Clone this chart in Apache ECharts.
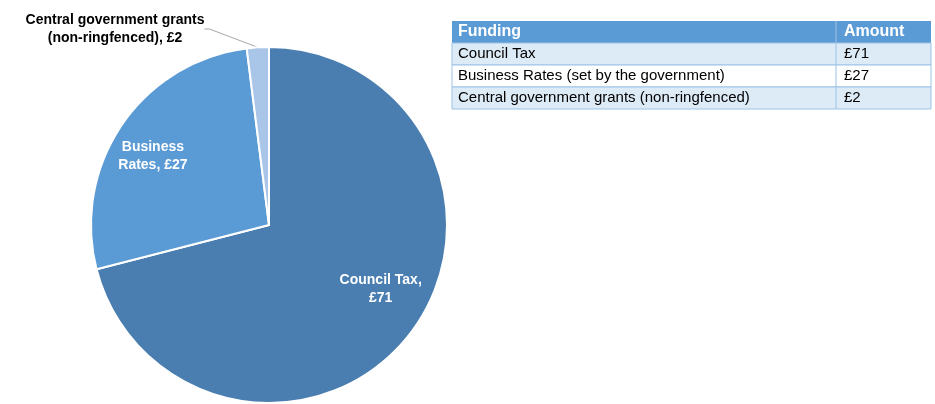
<!DOCTYPE html><html><head><meta charset="utf-8">
<script src="https://cdn.jsdelivr.net/npm/echarts@6/dist/echarts.min.js"></script>
<style>html,body{margin:0;background:#fff}#c{width:935px;height:404px}</style></head><body><div id="c"></div>
<script>
const categories=['Council Tax','Business Rates','Central government grants (non-ringfenced)'];
const values=[71,27,2];
const tableLabels=['Council Tax','Business Rates (set by the government)','Central government grants (non-ringfenced)'];
const tableHeader=['Funding','Amount'];
const pieLabels=['Council Tax,\n£71','Business\nRates, £27','Central government grants\n(non-ringfenced), £2'];
const colors=['#4A7EB0','#5B9BD5','#A9C5E8'];
const chart=echarts.init(document.getElementById('c'));
const F='Liberation Sans, Arial, sans-serif';
const X0=452,X1=931,XD=836,Y0=21,RH=22;
const g=[];
g.push({type:'rect',shape:{x:X0,y:Y0,width:X1-X0,height:RH},style:{fill:'#5B9BD5'}});
g.push({type:'text',style:{x:X0+6,y:Y0+RH/2,text:tableHeader[0],fill:'#fff',font:'bold 16px '+F,verticalAlign:'middle'}});
g.push({type:'text',style:{x:XD+8,y:Y0+RH/2,text:tableHeader[1],fill:'#fff',font:'bold 16px '+F,verticalAlign:'middle'}});
tableLabels.forEach((t,i)=>{const y=Y0+RH*(i+1);
 g.push({type:'rect',shape:{x:X0,y:y,width:X1-X0,height:RH},style:{fill:i%2===0?'#DDEBF7':'#fff',stroke:'#9DC3E6',lineWidth:1}});
 g.push({type:'line',shape:{x1:XD,y1:y,x2:XD,y2:y+RH},style:{stroke:'#9DC3E6',lineWidth:1}});
 g.push({type:'text',style:{x:X0+6,y:y+RH/2,text:t,fill:'#000',font:'15px '+F,verticalAlign:'middle'}});
 g.push({type:'text',style:{x:XD+8,y:y+RH/2,text:'£'+values[i],fill:'#000',font:'15px '+F,verticalAlign:'middle'}});
});
g.push({type:'line',shape:{x1:XD,y1:Y0,x2:XD,y2:Y0+RH},style:{stroke:'#9DC3E6',lineWidth:1}});
chart.setOption({
 animation:false,
 graphic:g,
 series:[{type:'pie',center:[269,225],radius:[0,178],startAngle:90,clockwise:true,
  itemStyle:{borderColor:'#fff',borderWidth:2},
  labelLayout:function(p){ if(p.dataIndex===2) return {x:115,y:29,align:'center',verticalAlign:'middle'}; },
  labelLine:{lineStyle:{color:'#A6A6A6'}},
  data:values.map((v,i)=>({name:categories[i],value:v,itemStyle:{color:colors[i]},
   label:i<2?{show:true,position:'inside',formatter:pieLabels[i],color:'#fff',fontFamily:F,fontWeight:'bold',fontSize:14,lineHeight:18,offset:i===0?[39,8]:[-40,-17]}:
   {show:true,position:'outside',formatter:pieLabels[i],color:'#000',fontFamily:F,fontWeight:'bold',fontSize:14,lineHeight:18},
   labelLine:{show:i===2,length:5,length2:5}}))
 }]
});
</script></body></html>
